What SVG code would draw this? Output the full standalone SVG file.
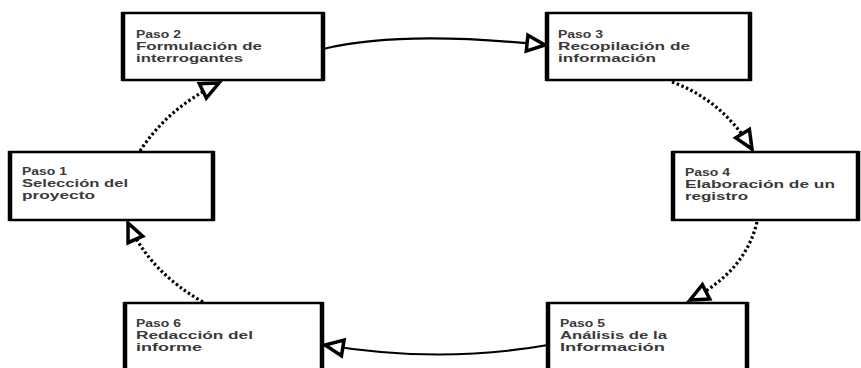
<svg xmlns="http://www.w3.org/2000/svg" width="861" height="368" viewBox="0 0 861 368">
<defs>
<marker id="arr" markerUnits="userSpaceOnUse" markerWidth="26" markerHeight="24" refX="21" refY="11" orient="auto">
<path d="M3,3 L21,11 L3,19 z" fill="#fff" stroke="#000" stroke-width="3.5" stroke-linejoin="miter"/>
</marker>
</defs>
<style>
.box{fill:#fff;stroke:#000;stroke-width:2.5}
.side{stroke:#000;stroke-width:4.5}
.t{font-family:"Liberation Sans",Arial,sans-serif;font-size:11px;font-weight:bold;fill:#3a3a3a}
.c{fill:none;stroke:#000;stroke-width:2.2}
.d{stroke-dasharray:2.5 2.5;stroke-width:3.2}
</style>
<rect width="861" height="368" fill="#fff"/>
<g id="connectors">
<path class="c d" d="M140,151 Q168,108 219,83" marker-end="url(#arr)"/>
<path class="c" d="M323,49 Q400,30 545,45" marker-end="url(#arr)"/>
<path class="c d" d="M672,82 Q722,100 752,149" marker-end="url(#arr)"/>
<path class="c d" d="M757,222 Q745,272 690,300" marker-end="url(#arr)"/>
<path class="c" d="M548,345 Q440,364 325,345" marker-end="url(#arr)"/>
<path class="c d" d="M203,302 Q150,272 128,223" marker-end="url(#arr)"/>
</g>
<g id="paso1">
<rect class="box" x="10" y="152" width="203" height="68"/>
<line class="side" x1="10" y1="151" x2="10" y2="221"/><line class="side" x1="213" y1="151" x2="213" y2="221"/>
<text class="t" x="22" y="175" textLength="45" lengthAdjust="spacingAndGlyphs">Paso 1</text>
<text class="t" x="22" y="187" textLength="106" lengthAdjust="spacingAndGlyphs">Selección del</text>
<text class="t" x="22" y="199" textLength="73" lengthAdjust="spacingAndGlyphs">proyecto</text>
</g>
<g id="paso2">
<rect class="box" x="123" y="13" width="200" height="67"/>
<line class="side" x1="123" y1="12" x2="123" y2="81"/><line class="side" x1="323" y1="12" x2="323" y2="81"/>
<text class="t" x="136" y="38" textLength="45" lengthAdjust="spacingAndGlyphs">Paso 2</text>
<text class="t" x="136" y="50" textLength="126" lengthAdjust="spacingAndGlyphs">Formulación de</text>
<text class="t" x="136" y="62" textLength="107" lengthAdjust="spacingAndGlyphs">interrogantes</text>
</g>
<g id="paso3">
<rect class="box" x="547" y="13" width="203" height="67"/>
<line class="side" x1="547" y1="12" x2="547" y2="81"/><line class="side" x1="750" y1="12" x2="750" y2="81"/>
<text class="t" x="558" y="38" textLength="45" lengthAdjust="spacingAndGlyphs">Paso 3</text>
<text class="t" x="558" y="50" textLength="132" lengthAdjust="spacingAndGlyphs">Recopilación de</text>
<text class="t" x="558" y="62" textLength="98" lengthAdjust="spacingAndGlyphs">información</text>
</g>
<g id="paso4">
<rect class="box" x="673" y="152" width="185" height="68"/>
<line class="side" x1="673" y1="151" x2="673" y2="221"/><line class="side" x1="858" y1="151" x2="858" y2="221"/>
<text class="t" x="685" y="176" textLength="45" lengthAdjust="spacingAndGlyphs">Paso 4</text>
<text class="t" x="685" y="188" textLength="150" lengthAdjust="spacingAndGlyphs">Elaboración de un</text>
<text class="t" x="685" y="200" textLength="63" lengthAdjust="spacingAndGlyphs">registro</text>
</g>
<g id="paso5">
<rect class="box" x="548" y="303" width="199" height="70"/>
<line class="side" x1="548" y1="302" x2="548" y2="370"/><line class="side" x1="747" y1="302" x2="747" y2="370"/>
<text class="t" x="560" y="327" textLength="45" lengthAdjust="spacingAndGlyphs">Paso 5</text>
<text class="t" x="560" y="339" textLength="107" lengthAdjust="spacingAndGlyphs">Análisis de la</text>
<text class="t" x="560" y="351" textLength="105" lengthAdjust="spacingAndGlyphs">Información</text>
</g>
<g id="paso6">
<rect class="box" x="125" y="303" width="197" height="70"/>
<line class="side" x1="125" y1="302" x2="125" y2="370"/><line class="side" x1="322" y1="302" x2="322" y2="370"/>
<text class="t" x="136" y="327" textLength="45" lengthAdjust="spacingAndGlyphs">Paso 6</text>
<text class="t" x="136" y="339" textLength="117" lengthAdjust="spacingAndGlyphs">Redacción del</text>
<text class="t" x="136" y="351" textLength="66" lengthAdjust="spacingAndGlyphs">informe</text>
</g>
</svg>
